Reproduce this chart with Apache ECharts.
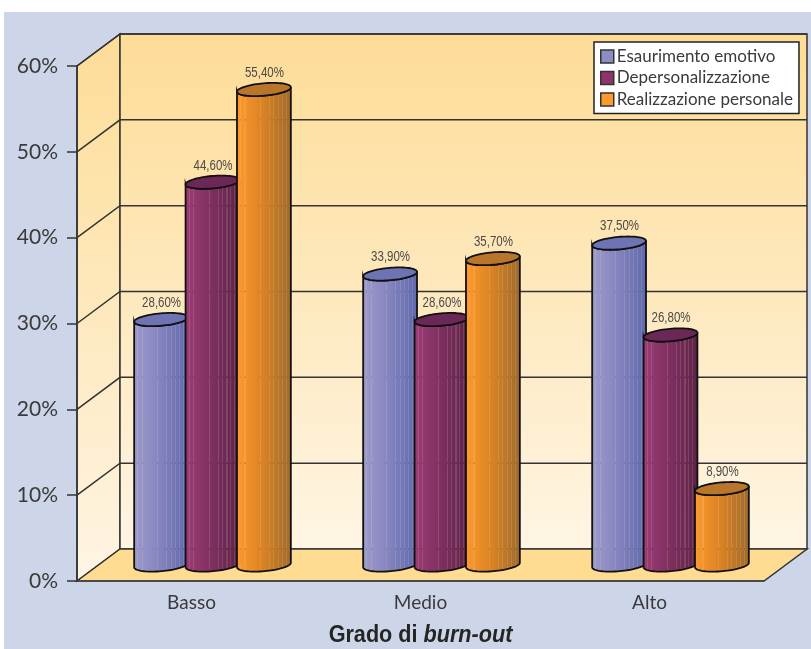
<!DOCTYPE html>
<html>
<head>
<meta charset="utf-8">
<style>html,body{margin:0;padding:0;background:#fff}#chart{width:811px;height:649px}</style>
<script src="https://cdn.jsdelivr.net/npm/echarts@6/dist/echarts.min.js"></script>
</head>
<body>
<div id="chart"></div>
<script>
// Burn-out levels by dimension
const categories = ['Basso', 'Medio', 'Alto'];
const seriesNames = ['Esaurimento emotivo', 'Depersonalizzazione', 'Realizzazione personale'];
const esaurimento = [28.6, 33.9, 37.5];
const depersonalizzazione = [44.6, 28.6, 26.8];
const realizzazione = [55.4, 35.7, 8.9];
const gridTicks = [10, 20, 30, 40, 50, 60];

// Oblique projection of the chart box
const DEPTH_X = 43, DEPTH_Y = -32;
const TILT = 5 * Math.PI / 180;
const EDGE = '#333333';
const TEXT = '#3a3a3a';
const SANS = 'Lato, sans-serif';
const HEAD = '"Liberation Sans", sans-serif';

const wallFill = {
  type: 'linear', x: 0, y: 0, x2: 0, y2: 1,
  colorStops: [{ offset: 0, color: '#fddc96' }, { offset: 1, color: '#fff5e4' }]
};

// Body shading for each cylinder: left, middle and right tones, with thin see-through ribs
const RIBS = [0.08, 0.16, 0.44, 0.6, 0.68, 0.76, 0.83, 0.9];
const palette = [
  { tones: [[158, 155, 202], [131, 131, 191], [94, 104, 173]], cap: '#6d73b3', swatch: '#8d8dc6' },
  { tones: [[156, 60, 118], [126, 47, 96], [92, 35, 72]], cap: '#6b2856', swatch: '#91336b' },
  { tones: [[255, 154, 44], [216, 130, 36], [156, 106, 46]], cap: '#b9752a', swatch: '#fc9a2d' }
];

function toneAt(tones, t) {
  const a = t < 0.5 ? tones[0] : tones[1];
  const b = t < 0.5 ? tones[1] : tones[2];
  const k = t < 0.5 ? t * 2 : (t - 0.5) * 2;
  return a.map((v, i) => Math.round(v + (b[i] - v) * k));
}
function rgba(c, alpha) {
  return 'rgba(' + c[0] + ',' + c[1] + ',' + c[2] + ',' + alpha + ')';
}
function bodyGradient(tones) {
  const stops = [{ offset: 0, color: rgba(tones[0], 1) }];
  const ribW = 0.01;
  RIBS.forEach(function (r) {
    const c = toneAt(tones, r);
    stops.push({ offset: r - ribW, color: rgba(toneAt(tones, r - ribW), 1) });
    stops.push({ offset: r - ribW, color: rgba(c, 0.86) });
    stops.push({ offset: r + ribW, color: rgba(c, 0.86) });
    stops.push({ offset: r + ribW, color: rgba(toneAt(tones, r + ribW), 1) });
  });
  stops.push({ offset: 1, color: rgba(tones[2], 1) });
  return { type: 'linear', x: 0, y: 0, x2: 1, y2: 0, colorStops: stops };
}

// Point on a tilted ellipse
function ellipsePoint(cx, cy, a, b, t) {
  const px = a * Math.cos(t), py = b * Math.sin(t);
  return [cx + px * Math.cos(TILT) + py * Math.sin(TILT),
          cy - px * Math.sin(TILT) + py * Math.cos(TILT)];
}

function renderWalls(params, api) {
  const cs = params.coordSys;
  const x0 = cs.x, x1 = cs.x + cs.width, yTop = cs.y, yBase = cs.y + cs.height;
  const st = { stroke: EDGE, lineWidth: 1.5 };
  return {
    type: 'group',
    children: [
      { type: 'polygon', shape: { points: [[x0, yTop], [x0 + DEPTH_X, yTop + DEPTH_Y], [x0 + DEPTH_X, yBase + DEPTH_Y], [x0, yBase]] },
        style: Object.assign({ fill: wallFill }, st) },
      { type: 'polygon', shape: { points: [[x0 + DEPTH_X, yTop + DEPTH_Y], [x1 + DEPTH_X, yTop + DEPTH_Y], [x1 + DEPTH_X, yBase + DEPTH_Y], [x0 + DEPTH_X, yBase + DEPTH_Y]] },
        style: Object.assign({ fill: wallFill }, st) },
      { type: 'polygon', shape: { points: [[x0, yBase], [x0 + DEPTH_X, yBase + DEPTH_Y], [x1 + DEPTH_X, yBase + DEPTH_Y], [x1, yBase]] },
        style: Object.assign({ fill: '#ffdc91' }, st) }
    ]
  };
}

function renderGridLine(params, api) {
  const cs = params.coordSys;
  const y = api.coord([0, api.value(1)])[1];
  return {
    type: 'polyline',
    shape: { points: [[cs.x, y], [cs.x + DEPTH_X, y + DEPTH_Y], [cs.x + cs.width + DEPTH_X, y + DEPTH_Y]] },
    style: { stroke: EDGE, lineWidth: 1.5, fill: 'none' }
  };
}

function cylinderRenderer(index) {
  const look = palette[index];
  const fill = bodyGradient(look.tones);
  return function (params, api) {
    const value = api.value(1);
    const top = api.coord([api.value(0), value]);
    const base = api.coord([api.value(0), 0]);
    const band = api.size([1, 0])[0];
    const a = band * 0.118, b = 6.2;
    const cx = top[0] + DEPTH_X / 2 - 0.5 + (index - 1) * band * 0.2245;
    const yTop = top[1] + DEPTH_Y / 2, yBase = base[1] + DEPTH_Y / 2;
    const body = [], cap = [];
    const N = 36;
    // Lower rim of the base, left to right, then the near rim of the top, right to left
    for (let i = 0; i <= N; i++) body.push(ellipsePoint(cx, yBase, a, b, Math.PI - Math.PI * i / N));
    for (let i = 0; i <= N; i++) body.push(ellipsePoint(cx, yTop, a, b, Math.PI * i / N));
    for (let i = 0; i < N * 2; i++) cap.push(ellipsePoint(cx, yTop, a, b, Math.PI * i / N));
    return {
      type: 'group',
      children: [
        { type: 'polygon', shape: { points: body }, style: { fill: fill, stroke: '#111', lineWidth: 1.8 } },
        { type: 'polygon', shape: { points: cap }, style: { fill: look.cap, stroke: '#111', lineWidth: 1.8 } },
        { type: 'text', x: cx + 0.5, y: yTop - 16.5, scaleX: 0.82, originX: 0,
          style: { text: value.toFixed(2).replace('.', ',') + '%', fill: '#4a4a4a', font: '14px ' + HEAD, align: 'center', verticalAlign: 'middle' } }
      ]
    };
  };
}

const measures = [esaurimento, depersonalizzazione, realizzazione];

const option = {
  animation: false,
  backgroundColor: '#ffffff',
  graphic: [
    { type: 'rect', z: -10, silent: true, shape: { x: 4, y: 12, width: 807, height: 637 }, style: { fill: '#cdd6e8' } },
    { type: 'text', z: 10, silent: true, x: 420.5, y: 636, scaleX: 0.94, originX: 0,
      style: {
        text: '{b|Grado di }{i|burn-out}', align: 'center', verticalAlign: 'middle',
        rich: {
          b: { font: 'bold 23px ' + HEAD, fill: '#252525' },
          i: { font: 'italic bold 23px ' + HEAD, fill: '#252525' }
        }
      } }
  ],
  grid: { left: 77, right: 47, top: 66, bottom: 68, outerBoundsMode: 'none' },
  legend: {
    orient: 'vertical',
    left: 594, top: 42,
    padding: [6, 6, 5.5, 6],
    itemWidth: 13, itemHeight: 13, itemGap: 4.5,
    backgroundColor: '#ffffff', borderColor: '#222222', borderWidth: 1.5,
    textStyle: { color: TEXT, fontFamily: SANS, fontSize: 17, lineHeight: 13, padding: [0, 0, 0, -2] },
    selectedMode: false,
    data: seriesNames.map(function (name, i) {
      return { name: name, icon: 'rect', itemStyle: { color: palette[i].swatch, borderColor: '#333333', borderWidth: 1.5 } };
    })
  },
  xAxis: {
    type: 'category',
    data: categories,
    z: 5,
    axisLine: { lineStyle: { color: '#444444', width: 1.5 } },
    axisTick: { length: 10, lineStyle: { color: '#333333', width: 1.5 } },
    axisLabel: { color: TEXT, fontFamily: SANS, fontSize: 19, margin: 12 }
  },
  yAxis: {
    type: 'value',
    min: 0, max: 60, interval: 10,
    z: 5,
    axisLine: { show: true, lineStyle: { color: '#333333', width: 1.5 } },
    axisTick: { show: true, length: 10, lineStyle: { color: '#333333', width: 1.5 } },
    axisLabel: { color: TEXT, fontFamily: SANS, fontSize: 21, margin: 19, formatter: '{value}%' },
    splitLine: { show: false }
  },
  series: [
    { type: 'custom', name: 'walls', z: 1, silent: true, renderItem: renderWalls, data: [[0, 0]], encode: { x: 0, y: 1 } },
    { type: 'custom', name: 'griglia', z: 2, silent: true, renderItem: renderGridLine,
      data: gridTicks.map(function (t) { return [0, t]; }), encode: { x: 0, y: 1 } }
  ].concat(measures.map(function (values, i) {
    return {
      type: 'custom', name: seriesNames[i], z: 3 + i, silent: true,
      renderItem: cylinderRenderer(i),
      itemStyle: { color: palette[i].swatch },
      data: values.map(function (v, c) { return [c, v]; }),
      encode: { x: 0, y: 1 }
    };
  }))
};

echarts.init(document.getElementById('chart')).setOption(option);
</script>
</body>
</html>
